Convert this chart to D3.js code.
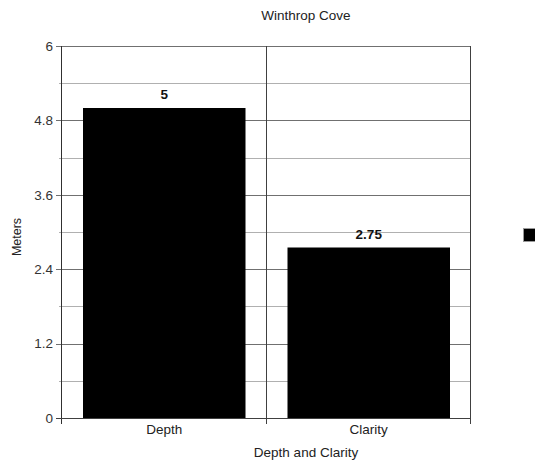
<!DOCTYPE html>
<html>
<head>
<meta charset="utf-8">
<script src="https://cdn.jsdelivr.net/npm/d3@7"></script>
<style>
  html, body { margin: 0; padding: 0; background: #fff; }
  svg { display: block; font-family: "Liberation Sans", Arial, sans-serif; }
</style>
</head>
<body>
<svg id="chart" width="535" height="464"></svg>
<script>
// Data
const categories = ["Depth", "Clarity"];
const values = [5, 2.75];
const yTicks = [0, 1.2, 2.4, 3.6, 4.8, 6];
const yMinorTicks = [0.6, 1.8, 3.0, 4.2, 5.4];
const chartTitle = "Winthrop Cove";
const xTitle = "Depth and Clarity";
const yTitle = "Meters";

(function () {
const svg = d3.select("#chart");
const plot = { left: 62, right: 471, top: 46, bottom: 418 };
const fs = 13.5;

const x = d3.scaleBand().domain(categories).range([plot.left, plot.right]).paddingInner(0).paddingOuter(0);
const y = d3.scaleLinear().domain([0, 6]).range([plot.bottom, plot.top]);
const barPad = 21;

// minor gridlines
svg.append("g").selectAll("line").data(yMinorTicks).join("line")
  .attr("x1", plot.left - 3).attr("x2", plot.right)
  .attr("y1", d => Math.round(y(d)) + 0.5).attr("y2", d => Math.round(y(d)) + 0.5)
  .attr("stroke", "#b0b0b0").attr("stroke-width", 1);

// major gridlines with ticks
svg.append("g").selectAll("line").data(yTicks).join("line")
  .attr("x1", plot.left - 6).attr("x2", plot.right)
  .attr("y1", d => Math.round(y(d)) + 0.5).attr("y2", d => Math.round(y(d)) + 0.5)
  .attr("stroke", "#707070").attr("stroke-width", 1);

// category separators
const seps = categories.map(c => x(c)).concat([plot.right]);
svg.append("g").selectAll("line").data(seps).join("line")
  .attr("x1", d => Math.round(d) - 0.5).attr("x2", d => Math.round(d) - 0.5)
  .attr("y1", plot.top).attr("y2", plot.bottom + 6)
  .attr("stroke", "#404040").attr("stroke-width", 1);

// bars
svg.append("g").selectAll("rect").data(values).join("rect")
  .attr("x", (d, i) => x(categories[i]) + barPad)
  .attr("width", x.bandwidth() - 2 * barPad)
  .attr("y", d => y(d))
  .attr("height", d => y(0) - y(d))
  .attr("fill", "#000");

// axis lines
svg.append("line").attr("x1", plot.left - 0.5).attr("x2", plot.left - 0.5).attr("y1", plot.top).attr("y2", plot.bottom + 6)
  .attr("stroke", "#303030");
svg.append("line").attr("x1", plot.left - 6).attr("x2", plot.right).attr("y1", plot.bottom + 0.5).attr("y2", plot.bottom + 0.5)
  .attr("stroke", "#404040");

// y tick labels
svg.append("g").selectAll("text").data(yTicks).join("text")
  .attr("x", plot.left - 9).attr("y", d => y(d)).attr("dy", "0.35em")
  .attr("text-anchor", "end").attr("font-size", fs).attr("fill", "#333")
  .text(d => d);

// x labels
svg.append("g").selectAll("text").data(categories).join("text")
  .attr("x", d => x(d) + x.bandwidth() / 2).attr("y", plot.bottom + 16)
  .attr("text-anchor", "middle").attr("font-size", fs).attr("fill", "#222")
  .text(d => d);

// value labels
svg.append("g").selectAll("text").data(values).join("text")
  .attr("x", (d, i) => x(categories[i]) + x.bandwidth() / 2).attr("y", d => y(d) - 9)
  .attr("text-anchor", "middle").attr("font-size", fs).attr("font-weight", "bold").attr("fill", "#111")
  .text(d => d);

// titles
svg.append("text").attr("x", 306).attr("y", 20).attr("text-anchor", "middle")
  .attr("font-size", fs).attr("fill", "#222").text(chartTitle);
svg.append("text").attr("x", 306).attr("y", 457).attr("text-anchor", "middle")
  .attr("font-size", fs).attr("fill", "#222").text(xTitle);
svg.append("text").attr("transform", `translate(21,237) rotate(-90)`)
  .attr("text-anchor", "middle").attr("font-size", 12.5).attr("fill", "#222").text(yTitle);

// legend swatch
svg.append("rect").attr("x", 523.5).attr("y", 228.5).attr("width", 12).attr("height", 13)
  .attr("fill", "#000").attr("stroke", "#999");
})();
</script>
</body>
</html>
